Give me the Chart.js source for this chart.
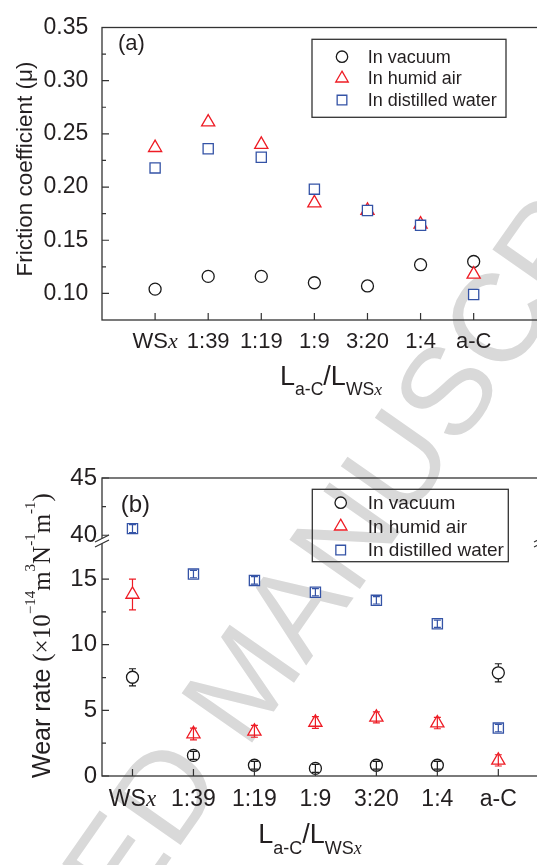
<!DOCTYPE html>
<html lang="en">
<head>
<meta charset="UTF-8">
<title>Friction coefficient and wear rate</title>
<script src="https://cdn.jsdelivr.net/npm/chart.js"></script>
<style>
    html, body { margin: 0; padding: 0; background: #fff; overflow: hidden; width: 537px; height: 865px; }
    canvas { position: absolute; left: 0; }
    #chartA { top: 0; }
    #chartB { top: 420px; }
</style>
</head>
<body>

<canvas id="chartA" width="560" height="420"></canvas>
<canvas id="chartB" width="560" height="445"></canvas>

<script>
    // categories and series
    const categories = ['WSx', '1:39', '1:19', '1:9', '3:20', '1:4', 'a-C'];
    const seriesNames = ['In vacuum', 'In humid air', 'In distilled water'];

    // (a) friction coefficient
    const frictionVacuum = [0.104, 0.116, 0.116, 0.110, 0.107, 0.127, 0.130];
    const frictionHumid  = [0.237, 0.261, 0.240, 0.185, 0.178, 0.165, 0.118];
    const frictionWater  = [0.218, 0.236, 0.228, 0.198, 0.178, 0.164, 0.099];
    const frictionTicks = [0.10, 0.15, 0.20, 0.25, 0.30, 0.35];
    const frictionMinor = [0.125, 0.175, 0.225, 0.275, 0.325];

    // (b) wear rate (x10^-14 m3 N-1 m-1)
    const wearVacuum    = [7.52, 1.57, 0.82, 0.58, 0.82, 0.82, 7.86];
    const wearVacuumErr = [0.65, 0.30, 0.30, 0.30, 0.30, 0.30, 0.69];
    const wearHumid     = [13.83, 3.20, 3.40, 4.08, 4.47, 4.03, 1.19];
    const wearHumidErr  = [1.17, 0.45, 0.45, 0.45, 0.42, 0.43, 0.43];
    const wearWater     = [40.58, 15.38, 14.90, 14.00, 13.38, 11.60, 3.65];
    const wearWaterErr  = [0.35, 0.28, 0.28, 0.28, 0.28, 0.28, 0.28];
    const wearTicksLow  = [0, 5, 10, 15];
    const wearMinorLow  = [2.5, 7.5, 12.5];
    const wearTicksHigh = [40, 45];
    const wearMinorHigh = [42.5];
    const lowMax = 17.9, highMin = 39.5;

    const SANS = '"Liberation Sans", Arial, Helvetica, sans-serif';
    const SERIF = '"Liberation Serif", "Times New Roman", serif';
    const INK = '#231f20';
    const colors = ['#1a1a1a', '#ee1c25', '#3453a6'];
    const styles = ['circle', 'triangle', 'rect'];
    const radii = [6, 7.6, 7.2];

    function drawMarker(ctx, style, x, y, r, color) {
        ctx.save();
        ctx.beginPath();
        if (style === 'circle') {
            ctx.arc(x, y, r, 0, Math.PI * 2);
        } else if (style === 'triangle') {
            ctx.moveTo(x, y - r);
            ctx.lineTo(x + 0.866 * r, y + r / 2);
            ctx.lineTo(x - 0.866 * r, y + r / 2);
            ctx.closePath();
        } else {
            const s = 0.7071 * r;
            ctx.rect(x - s, y - s, 2 * s, 2 * s);
        }
        ctx.fillStyle = '#fff';
        ctx.fill();
        ctx.lineWidth = 1.3;
        ctx.strokeStyle = color;
        ctx.stroke();
        ctx.restore();
    }

    function drawRich(ctx, parts, x, y, align) {
        let w = 0;
        parts.forEach(p => { ctx.font = p.font; w += ctx.measureText(p.t).width; });
        let cx = align === 'center' ? x - w / 2 : x;
        ctx.textAlign = 'left';
        ctx.textBaseline = 'alphabetic';
        parts.forEach(p => {
            ctx.font = p.font;
            ctx.fillText(p.t, cx, y + (p.dy || 0));
            cx += ctx.measureText(p.t).width;
        });
    }

    function drawWatermark(ctx, offY) {
        ctx.save();
        ctx.translate(-164, 1337 - offY);
        ctx.rotate(-55 * Math.PI / 180);
        ctx.font = `125px ${SANS}`;
        ctx.fillStyle = '#d9d9d9';
        ctx.textBaseline = 'alphabetic';
        ctx.fillText('ACCEPTED MANUSCRIPT', 0, 0);
        ctx.restore();
    }

    function drawBox(ctx, a) {
        ctx.save();
        ctx.strokeStyle = '#333';
        ctx.lineWidth = 1.3;
        ctx.strokeRect(a.left, a.top, a.right - a.left, a.bottom - a.top);
        ctx.restore();
    }

    function drawYTicks(ctx, scale, left, major, minor) {
        ctx.save();
        ctx.strokeStyle = '#333';
        ctx.lineWidth = 1.2;
        ctx.beginPath();
        major.forEach(v => { const y = scale.getPixelForValue(v); ctx.moveTo(left, y); ctx.lineTo(left + 7, y); });
        minor.forEach(v => { const y = scale.getPixelForValue(v); ctx.moveTo(left, y); ctx.lineTo(left + 4, y); });
        ctx.stroke();
        ctx.restore();
    }

    function drawXAxis(ctx, scale, bottom, labelY, size) {
        ctx.save();
        ctx.strokeStyle = '#333';
        ctx.lineWidth = 1.2;
        ctx.beginPath();
        categories.forEach((c, i) => {
            const x = scale.getPixelForValue(i);
            ctx.moveTo(x, bottom);
            ctx.lineTo(x, bottom - 7);
        });
        ctx.stroke();
        ctx.fillStyle = INK;
        categories.forEach((c, i) => {
            const x = scale.getPixelForValue(i);
            let parts = [{ t: c, font: `${size}px ${SANS}` }];
            if (c === 'WSx') {
                parts = [{ t: 'WS', font: `${size}px ${SANS}` }, { t: 'x', font: `italic ${size}px ${SERIF}` }];
            }
            drawRich(ctx, parts, x, labelY, 'center');
        });
        ctx.restore();
    }

    function drawXTitle(ctx, x, y, size, sub) {
        ctx.save();
        ctx.fillStyle = INK;
        const main = `${size}px ${SANS}`, small = `${sub}px ${SANS}`;
        const drop = size * 0.4;
        drawRich(ctx, [
            { t: 'L', font: main },
            { t: 'a-C', font: small, dy: drop },
            { t: '/', font: main },
            { t: 'L', font: main },
            { t: 'WS', font: small, dy: drop },
            { t: 'x', font: `italic ${sub}px ${SERIF}`, dy: drop }
        ], x, y, 'left');
        ctx.restore();
    }

    function drawLegend(ctx, box, rowY, gap, markerX, textX, size) {
        ctx.save();
        ctx.strokeStyle = '#333';
        ctx.lineWidth = 1.3;
        ctx.strokeRect(box[0], box[1], box[2], box[3]);
        ctx.fillStyle = INK;
        ctx.font = `${size}px ${SANS}`;
        ctx.textAlign = 'left';
        ctx.textBaseline = 'middle';
        seriesNames.forEach((name, k) => {
            const y = rowY + k * gap;
            drawMarker(ctx, styles[k], markerX, y, radii[k] * 0.95, colors[k]);
            ctx.fillStyle = INK;
            ctx.fillText(name, textX, y + 1);
        });
        ctx.restore();
    }

    function makeSet(vals, errs, k, axis, keep) {
        const pts = [];
        vals.forEach((v, i) => { if (keep(v)) pts.push({ x: i, y: v, e: errs ? errs[i] : 0 }); });
        return {
            label: seriesNames[k],
            data: pts,
            yAxisID: axis,
            order: 3 - k,
            showLine: false,
            pointStyle: styles[k],
            pointRadius: radii[k],
            pointHoverRadius: radii[k],
            pointBorderColor: colors[k],
            pointBackgroundColor: '#fff',
            pointBorderWidth: 1.3,
            styleIndex: k
        };
    }

    // error bars drawn over the hollow markers; bar line skipped inside the symbol when it sticks out
    const errorBars = {
        id: 'errorBars',
        afterDatasetsDraw(chart) {
            const ctx = chart.ctx;
            ctx.save();
            ctx.lineWidth = 1.2;
            chart.data.datasets.forEach((ds, d) => {
                const meta = chart.getDatasetMeta(d);
                const sc = chart.scales[ds.yAxisID];
                const k = ds.styleIndex, r = radii[k];
                const up = k === 2 ? 0.7071 * r : r;
                const down = k === 0 ? r : (k === 1 ? r / 2 : 0.7071 * r);
                ctx.strokeStyle = colors[k];
                meta.data.forEach((el, j) => {
                    const p = ds.data[j];
                    if (!p.e) return;
                    const x = el.x, y = el.y;
                    const top = sc.getPixelForValue(p.y + p.e);
                    const bot = sc.getPixelForValue(p.y - p.e);
                    const ePx = (bot - top) / 2;
                    ctx.beginPath();
                    if (ePx <= Math.max(up, down)) {
                        ctx.moveTo(x, top); ctx.lineTo(x, bot);
                    } else {
                        if (ePx > up) { ctx.moveTo(x, y - up); ctx.lineTo(x, top); }
                        if (ePx > down) { ctx.moveTo(x, y + down); ctx.lineTo(x, bot); }
                    }
                    ctx.moveTo(x - 3.5, top); ctx.lineTo(x + 3.5, top);
                    ctx.moveTo(x - 3.5, bot); ctx.lineTo(x + 3.5, bot);
                    ctx.stroke();
                });
            });
            ctx.restore();
        }
    };

    const hidden = { display: false, drawTicks: false };

    // ---------- (a) ----------
    const decorA = {
        id: 'decorA',
        beforeDraw(chart) { drawWatermark(chart.ctx, 0); },
        afterDraw(chart) {
            const ctx = chart.ctx, a = chart.chartArea;
            drawBox(ctx, a);
            drawYTicks(ctx, chart.scales.y, a.left, frictionTicks, frictionMinor);
            drawXAxis(ctx, chart.scales.x, a.bottom, 348, 22);
            drawXTitle(ctx, 280, 384.5, 27, 17.6);

            ctx.save();
            ctx.fillStyle = INK;
            ctx.translate(31.5, 169);
            ctx.rotate(-Math.PI / 2);
            ctx.font = `22.5px ${SANS}`;
            ctx.textAlign = 'center';
            ctx.textBaseline = 'alphabetic';
            ctx.fillText('Friction coefficient (\u03bc)', 0, 0);
            ctx.restore();

            ctx.save();
            ctx.fillStyle = INK;
            ctx.font = `22px ${SANS}`;
            ctx.textBaseline = 'alphabetic';
            ctx.fillText('(a)', 118, 50);
            ctx.restore();

            drawLegend(ctx, [312, 39.3, 194, 78], 56.7, 21.7, 342, 367.7, 18);
        }
    };

    new Chart(document.getElementById('chartA'), {
        type: 'scatter',
        data: {
            datasets: [
                makeSet(frictionVacuum, null, 0, 'y', () => true),
                makeSet(frictionHumid, null, 1, 'y', () => true),
                makeSet(frictionWater, null, 2, 'y', () => true)
            ]
        },
        options: {
            responsive: false,
            animation: false,
            devicePixelRatio: 1,
            events: [],
            layout: { padding: { top: 19, right: 12, bottom: 0, left: 0 } },
            plugins: { legend: { display: false }, tooltip: { enabled: false } },
            scales: {
                x: {
                    type: 'linear', min: -1, max: 7.4,
                    grid: hidden, border: { display: false },
                    ticks: { display: false },
                    afterFit: s => { s.height = 100; }
                },
                y: {
                    type: 'linear', min: 0.075, max: 0.35,
                    grid: hidden, border: { display: false },
                    ticks: {
                        font: { size: 23, family: SANS }, color: INK, padding: 13.7,
                        callback: v => v.toFixed(2)
                    },
                    afterBuildTicks: s => { s.ticks = frictionTicks.map(v => ({ value: v })); },
                    afterFit: s => { s.width = 102; }
                }
            }
        },
        plugins: [decorA]
    });

    // ---------- (b) ----------
    const decorB = {
        id: 'decorB',
        beforeDraw(chart) { drawWatermark(chart.ctx, 420); },
        afterDraw(chart) {
            const ctx = chart.ctx, a = chart.chartArea;
            const lo = chart.scales.yLow, hi = chart.scales.yHigh;
            drawBox(ctx, a);
            drawYTicks(ctx, lo, a.left, wearTicksLow, wearMinorLow);
            drawYTicks(ctx, hi, a.left, wearTicksHigh, wearMinorHigh);
            drawXAxis(ctx, chart.scales.x, a.bottom, 385.7, 23);
            drawXTitle(ctx, 258.3, 423.3, 27, 18);

            // axis break marks
            const yb = hi.bottom;
            ctx.save();
            [a.left, a.right].forEach(xb => {
                ctx.fillStyle = '#fff';
                ctx.beginPath();
                ctx.moveTo(xb - 7, yb + 1); ctx.lineTo(xb + 7, yb - 6);
                ctx.lineTo(xb + 7, yb - 1); ctx.lineTo(xb - 7, yb + 6);
                ctx.closePath();
                ctx.fill();
                ctx.strokeStyle = '#333';
                ctx.lineWidth = 1.2;
                ctx.beginPath();
                ctx.moveTo(xb - 7, yb + 1); ctx.lineTo(xb + 7, yb - 6);
                ctx.moveTo(xb - 7, yb + 6); ctx.lineTo(xb + 7, yb - 1);
                ctx.stroke();
            });
            ctx.restore();

            ctx.save();
            ctx.fillStyle = INK;
            ctx.translate(50, 358);
            ctx.rotate(-Math.PI / 2);
            const serif = `25px ${SERIF}`, sup = `15px ${SERIF}`;
            drawRich(ctx, [
                { t: 'Wear rate ', font: `25px ${SANS}` },
                { t: '(\u00d710', font: serif },
                { t: '\u221214', font: sup, dy: -15 },
                { t: 'm', font: serif },
                { t: '3', font: sup, dy: -15 },
                { t: 'N', font: serif },
                { t: '-1', font: sup, dy: -15 },
                { t: 'm', font: serif },
                { t: '-1', font: sup, dy: -15 },
                { t: ')', font: serif }
            ], 0, 0, 'left');
            ctx.restore();

            ctx.save();
            ctx.fillStyle = INK;
            ctx.font = `24px ${SANS}`;
            ctx.textBaseline = 'alphabetic';
            ctx.fillText('(b)', 120.7, 91.5);
            ctx.restore();

            drawLegend(ctx, [312.3, 69.3, 196, 72.4], 82.7, 23.7, 340.7, 367.7, 19);
        }
    };

    const wearAxis = (min, max, weight, major) => ({
        type: 'linear', position: 'left', stack: 'wear', stackWeight: weight,
        min: min, max: max,
        grid: hidden, border: { display: false },
        ticks: { font: { size: 24, family: SANS }, color: INK, padding: 5, callback: v => String(v) },
        afterBuildTicks: s => { s.ticks = major.map(v => ({ value: v })); },
        afterFit: s => { s.width = 102; }
    });

    new Chart(document.getElementById('chartB'), {
        type: 'scatter',
        data: {
            datasets: [
                makeSet(wearVacuum, wearVacuumErr, 0, 'yLow', v => v <= lowMax),
                makeSet(wearHumid, wearHumidErr, 1, 'yLow', v => v <= lowMax),
                makeSet(wearWater, wearWaterErr, 2, 'yLow', v => v <= lowMax),
                makeSet(wearWater, wearWaterErr, 2, 'yHigh', v => v >= highMin)
            ]
        },
        options: {
            responsive: false,
            animation: false,
            devicePixelRatio: 1,
            events: [],
            layout: { padding: { top: 58, right: 19, bottom: 0, left: 0 } },
            plugins: { legend: { display: false }, tooltip: { enabled: false } },
            scales: {
                x: {
                    type: 'linear', min: -0.5, max: 6.7,
                    grid: hidden, border: { display: false },
                    ticks: { display: false },
                    afterFit: s => { s.height = 89; }
                },
                yLow: wearAxis(0, lowMax, 235, wearTicksLow),
                yHigh: wearAxis(highMin, 45, 63, wearTicksHigh)
            }
        },
        plugins: [errorBars, decorB]
    });
</script>
</body>
</html>
